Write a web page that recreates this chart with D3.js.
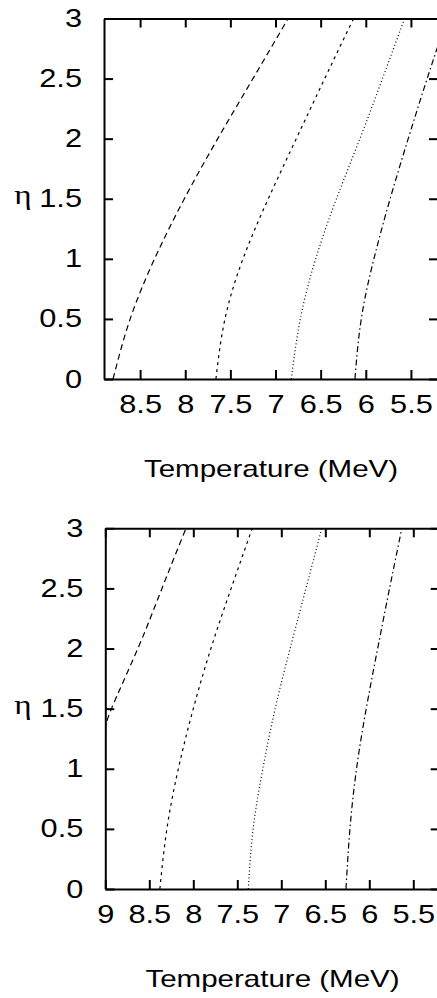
<!DOCTYPE html>
<html>
<head>
<meta charset="utf-8">
<script src="https://cdn.jsdelivr.net/npm/d3@7"></script>
<style>
  body { margin: 0; background: #fff; }
  svg { display: block; }
  .axis path, .axis line { stroke: #000; stroke-width: 2; }
  .axis text { font-family: "Liberation Sans", Arial, sans-serif; font-size: 25px; fill: #000; }
</style>
</head>
<body>
<div id="chart"></div>
<script>
// Tick labels
var etaTicks = [0, 0.5, 1, 1.5, 2, 2.5, 3];
var topTempTicks = [8.5, 8, 7.5, 7, 6.5, 6, 5.5];
var bottomTempTicks = [9, 8.5, 8, 7.5, 7, 6.5, 6, 5.5];

// eta values where curves were read
var etaLevels = [0, 0.5, 1, 1.5, 2, 2.5, 3];

// Top panel: temperature (MeV) at each eta level
var topLongDash = [8.80, 8.61, 8.34, 8.01, 7.64, 7.25, 6.86];
var topShortDash = [7.66, 7.56, 7.36, 7.08, 6.77, 6.455, 6.135];
var topDotted = [6.825, 6.725, 6.555, 6.325, 6.065, 5.815, 5.57];
var topDashDot = [6.12, 6.05, 5.91, 5.73, 5.53, 5.32, 5.10];

// Bottom panel: the long dashed curve leaves the frame at eta ~1.3
var bottomLongDashEta = [1.32, 1.5, 2, 2.5, 3];
var bottomLongDash = [9.0, 8.93, 8.63, 8.356, 8.083];
var bottomShortDash = [8.38, 8.30, 8.17, 8.0, 7.80, 7.57, 7.33];
var bottomDotted = [7.375, 7.32, 7.21, 7.07, 6.90, 6.72, 6.54];
var bottomDashDot = [6.265, 6.22, 6.145, 6.035, 5.905, 5.77, 5.63];

var width = 437, height = 998;

// the original figure is stretched sideways, text included
var stretch = 1.23;

// dash patterns, gnuplot style
var dashes = {
    longDash: '6,4',
    shortDash: '3,4',
    dotted: '1,2.5',
    dashDot: '6,3,1.5,3'
};

var svg = d3.select('#chart')
    .append('svg')
    .attr('width', width)
    .attr('height', height);

svg.append('rect').attr('width', width).attr('height', height).attr('fill', '#fff');

function zip(etas, temps) {
    return temps.map(function(t, i) { return { t: t, eta: etas[i] }; });
}

// move x/y of tick texts into a transform so they can be widened
function widenText(axisGroup) {
    axisGroup.selectAll('text').each(function() {
        var t = d3.select(this);
        var tx = +t.attr('x') || 0, ty = +t.attr('y') || 0;
        t.attr('x', 0).attr('y', 0)
            .attr('transform', 'translate(' + tx + ',' + ty + ') scale(' + stretch + ',1)');
    });
}

function drawPanel(opts) {
    var x = d3.scaleLinear().domain(opts.tDomain).range([opts.left, opts.right]);
    var y = d3.scaleLinear().domain([0, 3]).range([opts.bottom, opts.top]);

    var g = svg.append('g');

    var clipId = 'clip' + opts.id;
    g.append('clipPath').attr('id', clipId)
        .append('rect')
        .attr('x', opts.left).attr('y', opts.top)
        .attr('width', opts.right - opts.left)
        .attr('height', opts.bottom - opts.top);

    var line = d3.line()
        .x(function(d) { return x(d.t); })
        .y(function(d) { return y(d.eta); })
        .curve(d3.curveNatural);

    var curves = g.append('g').attr('clip-path', 'url(#' + clipId + ')');
    opts.series.forEach(function(s) {
        curves.append('path')
            .datum(s.points)
            .attr('d', line)
            .attr('fill', 'none')
            .attr('stroke', '#000')
            .attr('stroke-width', 1.2)
            .attr('stroke-dasharray', s.dash);
    });

    // bottom axis with labels, ticks pointing in
    g.append('g').attr('class', 'axis')
        .attr('transform', 'translate(0,' + opts.bottom + ')')
        .call(d3.axisBottom(x).tickValues(opts.tempTicks).tickSize(-9).tickSizeOuter(0).tickPadding(16)
            .tickFormat(d3.format('~g')))
        .call(widenText);

    g.append('g').attr('class', 'axis')
        .attr('transform', 'translate(0,' + opts.top + ')')
        .call(d3.axisTop(x).tickValues(opts.tempTicks).tickSize(-9).tickSizeOuter(0).tickFormat(''));

    g.append('g').attr('class', 'axis')
        .attr('transform', 'translate(' + opts.left + ',0)')
        .call(d3.axisLeft(y).tickValues(etaTicks).tickSize(-9).tickSizeOuter(0).tickPadding(22)
            .tickFormat(d3.format('~g')))
        .call(widenText);

    g.append('g').attr('class', 'axis')
        .attr('transform', 'translate(' + opts.right + ',0)')
        .call(d3.axisRight(y).tickValues(etaTicks).tickSize(-9).tickSizeOuter(0).tickFormat(''));

    // axis titles
    g.append('text')
        .attr('transform', 'translate(' + ((opts.left + opts.right) / 2) + ',' + (opts.bottom + 98) + ') scale(' + stretch + ',1)')
        .attr('text-anchor', 'middle')
        .style('font-family', '"Liberation Sans", Arial, sans-serif')
        .style('font-size', '24px')
        .text('Temperature (MeV)');

    g.append('text')
        .attr('transform', 'translate(23,' + (y(1.5) + 5) + ') scale(' + stretch + ',1)')
        .attr('text-anchor', 'middle')
        .style('font-family', '"Liberation Serif", "DejaVu Serif", serif')
        .style('font-size', '27px')
        .text('η');
}

drawPanel({
    id: 'Top',
    tDomain: [8.9, 5.2],
    left: 104, right: 438, top: 18.5, bottom: 379,
    tempTicks: topTempTicks,
    series: [
        { points: zip(etaLevels, topLongDash), dash: dashes.longDash },
        { points: zip(etaLevels, topShortDash), dash: dashes.shortDash },
        { points: zip(etaLevels, topDotted), dash: dashes.dotted },
        { points: zip(etaLevels, topDashDot), dash: dashes.dashDot }
    ]
});

drawPanel({
    id: 'Bottom',
    tDomain: [9, 5.2],
    left: 105.3, right: 439.7, top: 528.3, bottom: 889,
    tempTicks: bottomTempTicks,
    series: [
        { points: zip(bottomLongDashEta, bottomLongDash), dash: dashes.longDash },
        { points: zip(etaLevels, bottomShortDash), dash: dashes.shortDash },
        { points: zip(etaLevels, bottomDotted), dash: dashes.dotted },
        { points: zip(etaLevels, bottomDashDot), dash: dashes.dashDot }
    ]
});
</script>
</body>
</html>
